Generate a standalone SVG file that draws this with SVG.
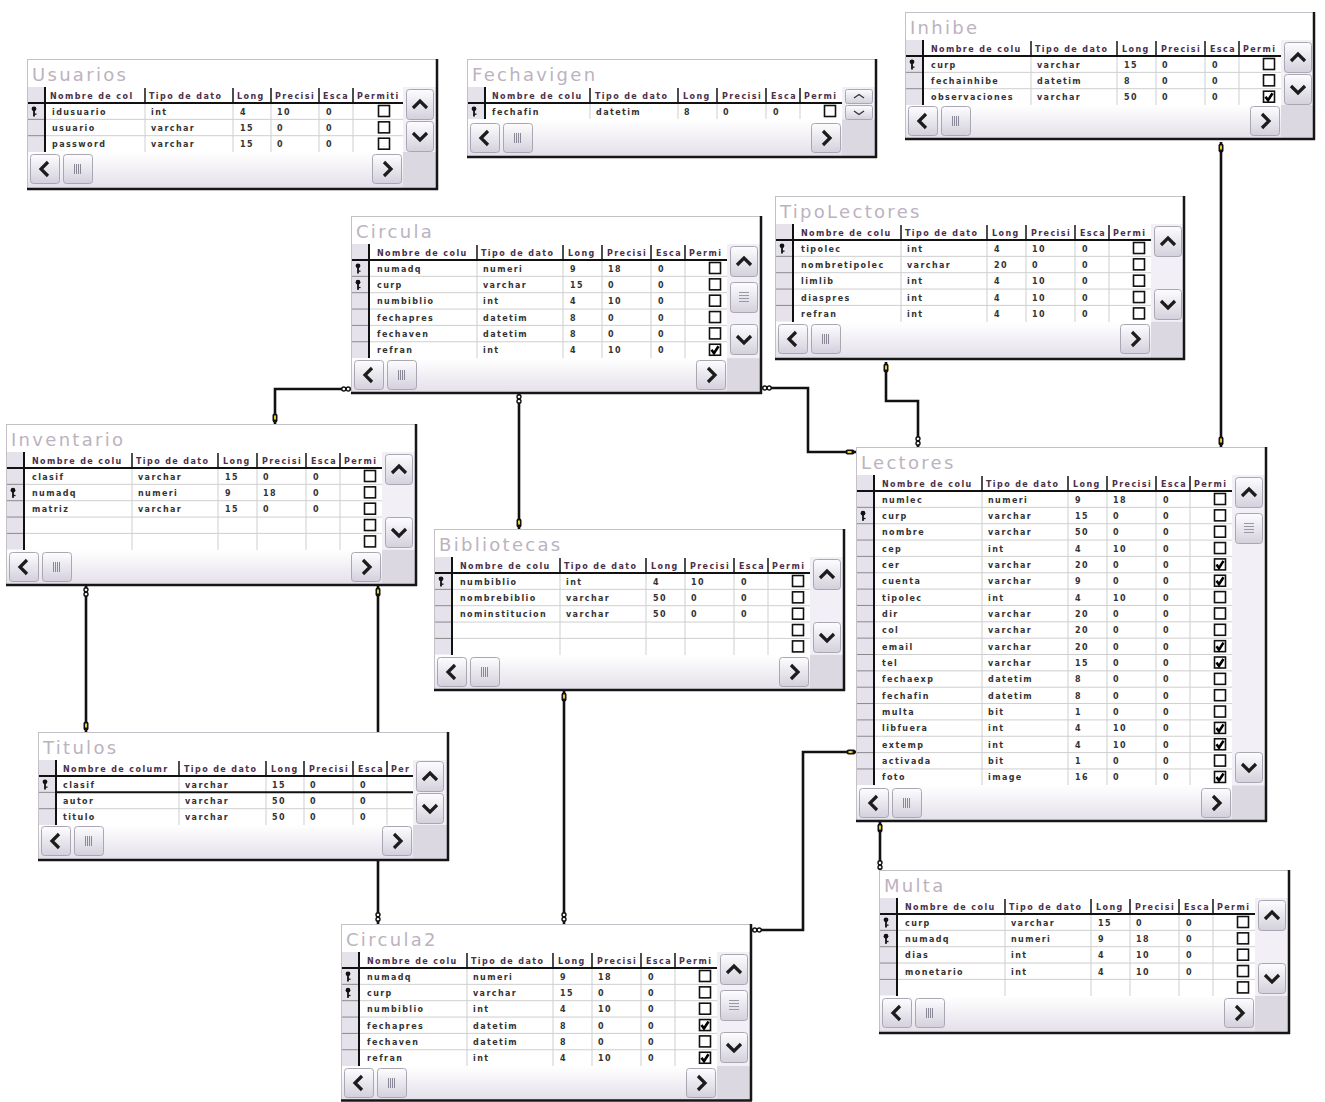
<svg xmlns="http://www.w3.org/2000/svg" xmlns:xlink="http://www.w3.org/1999/xlink" width="1325" height="1102" viewBox="0 0 1325 1102">
<style>
.fr{fill:#fff;stroke:#c4c0c8;stroke-width:1}
.ed{stroke:#161616;stroke-width:2.5;fill:none}
.tt{font-family:"DejaVu Sans",Verdana,sans-serif;font-size:18px;fill:#bcb2c0;letter-spacing:2.3px}
.hd{font-family:"DejaVu Sans",sans-serif;font-size:8px;font-weight:bold;fill:#4a304a;letter-spacing:1.4px}
.tx text{font-family:"DejaVu Sans",sans-serif;font-size:8px;font-weight:bold;fill:#333;letter-spacing:1.4px}
.gl{stroke:#cfcfcf;stroke-width:1;fill:none}
.hs{stroke:#222;stroke-width:1.6;fill:none}
.bk{stroke:#111;stroke-width:2;fill:none}
.sel{fill:#e6e2ec}
.vs{fill:#f2f0f6}
.cn{fill:#dcd8e2}
.hb{fill:url(#gh)}
.sg{stroke:#8a8a8a;stroke-width:1;fill:none}
.conn{stroke:#111;stroke-width:2.6;fill:none}
</style>
<defs>
<linearGradient id="gb" x1="0" y1="0" x2="0" y2="1"><stop offset="0" stop-color="#fdfdff"/><stop offset="1" stop-color="#d4d0dc"/></linearGradient>
<linearGradient id="gh" x1="0" y1="0" x2="0" y2="1"><stop offset="0" stop-color="#ffffff"/><stop offset="1" stop-color="#e4e0ea"/></linearGradient>
<g id="bU"><rect x="0.5" y="0.5" width="27" height="30" rx="3" fill="url(#gb)" stroke="#aaa6b2"/><path d="M7,19 L14,12 L21,19" fill="none" stroke="#1c1c1c" stroke-width="3.2"/></g>
<g id="bD"><rect x="0.5" y="0.5" width="27" height="30" rx="3" fill="url(#gb)" stroke="#aaa6b2"/><path d="M7,12 L14,19 L21,12" fill="none" stroke="#1c1c1c" stroke-width="3.2"/></g>
<g id="tV"><rect x="0.5" y="0.5" width="27" height="30" rx="3" fill="url(#gb)" stroke="#aaa6b2"/><path d="M9,10.5H19M9,13.5H19M9,16.5H19M9,19.5H19" fill="none" stroke="#9a98a4" stroke-width="1"/></g>
<g id="bL"><rect x="0.5" y="0.5" width="29" height="29" rx="3" fill="url(#gb)" stroke="#aaa6b2"/><path d="M18,8 L11,15 L18,22" fill="none" stroke="#1c1c1c" stroke-width="3.2"/></g>
<g id="bR"><rect x="0.5" y="0.5" width="29" height="29" rx="3" fill="url(#gb)" stroke="#aaa6b2"/><path d="M12,8 L19,15 L12,22" fill="none" stroke="#1c1c1c" stroke-width="3.2"/></g>
<g id="tH"><rect x="0.5" y="0.5" width="29" height="29" rx="3" fill="url(#gb)" stroke="#aaa6b2"/><path d="M11.5,10V20M13.5,10V20M15.5,10V20M17.5,10V20" fill="none" stroke="#8a8896" stroke-width="1"/></g>
<g id="sU"><rect x="0.5" y="0.5" width="27" height="14" rx="2" fill="url(#gb)" stroke="#aaa6b2"/><path d="M9,9 L14,5.5 L19,9" fill="none" stroke="#333" stroke-width="1.4"/></g>
<g id="sD"><rect x="0.5" y="0.5" width="27" height="14" rx="2" fill="url(#gb)" stroke="#aaa6b2"/><path d="M9,6 L14,9.5 L19,6" fill="none" stroke="#333" stroke-width="1.4"/></g>
<rect id="cb" x="0.5" y="0.5" width="11" height="11" fill="#fff" stroke="#111" stroke-width="1.6"/>
<g id="cc"><use href="#cb"/><path d="M2.5,6 L5,9.5 L9.5,2.5" stroke="#000" stroke-width="2.6" fill="none"/></g>
<g id="ky"><circle cx="0" cy="-2.2" r="2.4" fill="#111"/><rect x="-0.9" y="-0.5" width="1.8" height="6" fill="#111"/><rect x="0.5" y="2.5" width="2" height="1.3" fill="#111"/></g>
<g id="kv"><rect x="-2.5" y="-4.5" width="5" height="9" rx="2" fill="#111"/><rect x="-1" y="-2.5" width="2" height="4" fill="#e8c830"/></g>
<g id="kh"><rect x="-4.5" y="-2.5" width="9" height="5" rx="2" fill="#111"/><rect x="-2.5" y="-1" width="4" height="2" fill="#e8c830"/></g>
<g id="iv"><circle cx="0" cy="-2.2" r="2" fill="#fff" stroke="#111" stroke-width="1.4"/><circle cx="0" cy="2.2" r="2" fill="#fff" stroke="#111" stroke-width="1.4"/></g>
<g id="ih"><circle cx="-2.2" cy="0" r="2" fill="#fff" stroke="#111" stroke-width="1.4"/><circle cx="2.2" cy="0" r="2" fill="#fff" stroke="#111" stroke-width="1.4"/></g>
</defs>
<rect x="0" y="0" width="1325" height="1102" fill="#ffffff"/>

<g id="connectors">
<path class="conn" d="M1221,142V447"/>
<path class="conn" d="M886,362V401H918V447"/>
<path class="conn" d="M762,388H808V452H856"/>
<path class="conn" d="M351,389H275V424"/>
<path class="conn" d="M519,394V529"/>
<path class="conn" d="M86,586V732"/>
<path class="conn" d="M378,586V924"/>
<path class="conn" d="M564,691V924"/>
<path class="conn" d="M752,930H803V752H856"/>
<path class="conn" d="M880,822V870"/>
<use href="#kv" x="1221" y="148"/><use href="#kv" x="1221" y="441"/>
<use href="#kv" x="886" y="368"/><use href="#iv" x="918" y="441"/>
<use href="#ih" x="767" y="388"/><use href="#kh" x="850" y="452"/>
<use href="#ih" x="346" y="389"/><use href="#kv" x="275" y="418"/>
<use href="#iv" x="519" y="399"/><use href="#kv" x="519" y="523"/>
<use href="#iv" x="86" y="592"/><use href="#kv" x="86" y="726"/>
<use href="#kv" x="378" y="592"/><use href="#iv" x="378" y="917"/>
<use href="#kv" x="564" y="697"/><use href="#iv" x="564" y="917"/>
<use href="#ih" x="757" y="930"/><use href="#kh" x="851" y="752"/>
<use href="#kv" x="880" y="828"/><use href="#iv" x="880" y="865"/>
</g>

<g id="usuarios" transform="translate(27,59)">
<rect class="fr" x="0.5" y="0.5" width="409" height="129"/>
<text class="tt" x="5" y="22">Usuarios</text>
<rect class="sel" x="1" y="28" width="17" height="65"/>
<rect class="vs" x="376" y="28" width="33" height="65"/>
<rect class="hb" x="1" y="93" width="375" height="36"/>
<rect class="cn" x="376" y="93" width="33" height="36"/>
<path class="gl" d="M118,44V93M206,44V93M244,44V93M292,44V93M326,44V93M18,60.35H376M18,76.7H376"/>
<path class="sg" d="M1,60.35H18M1,76.7H18"/>
<path class="hs" d="M118,29V43M206,29V43M244,29V43M292,29V43M326,29V43"/>
<path class="bk" d="M18,28V93M1,44H376"/>
<text class="hd" y="39.5"><tspan x="23">Nombre de col</tspan><tspan x="122">Tipo de dato</tspan><tspan x="210">Long</tspan><tspan x="248">Precisi</tspan><tspan x="296">Esca</tspan><tspan x="330">Permiti</tspan></text>
<g class="tx">
<text y="55.5"><tspan x="25">idusuario</tspan><tspan x="124">int</tspan><tspan x="213">4</tspan><tspan x="250">10</tspan><tspan x="299">0</tspan></text>
<text y="71.85"><tspan x="25">usuario</tspan><tspan x="124">varchar</tspan><tspan x="213">15</tspan><tspan x="250">0</tspan><tspan x="299">0</tspan></text>
<text y="88.2"><tspan x="25">password</tspan><tspan x="124">varchar</tspan><tspan x="213">15</tspan><tspan x="250">0</tspan><tspan x="299">0</tspan></text>
</g>
<use href="#ky" x="7" y="52"/>
<use href="#cb" x="351" y="46"/><use href="#cb" x="351" y="62.35"/><use href="#cb" x="351" y="78.7"/>
<use href="#bU" x="379" y="30"/><use href="#bD" x="379" y="62"/>
<use href="#bL" x="3" y="95"/><use href="#tH" x="36" y="95"/><use href="#bR" x="345" y="95"/>
<path class="ed" d="M410,0V131M0,130H411"/>
</g>

<g id="fechavigen" transform="translate(467,59)">
<rect class="fr" x="0.5" y="0.5" width="408" height="97"/>
<text class="tt" x="5" y="22">Fechavigen</text>
<rect class="sel" x="1" y="28" width="17" height="32.35"/>
<rect class="vs" x="375" y="28" width="33" height="32.35"/>
<rect class="hb" x="1" y="60.35" width="374" height="37"/>
<rect class="cn" x="375" y="60.35" width="33" height="37"/>
<path class="gl" d="M123,44V60M211,44V60M250,44V60M299,44V60M333,44V60"/>
<path class="hs" d="M123,29V43M211,29V43M250,29V43M299,29V43M333,29V43"/>
<path class="bk" d="M18,28V60M1,44H375"/>
<text class="hd" y="39.5"><tspan x="25">Nombre de colu</tspan><tspan x="128">Tipo de dato</tspan><tspan x="216">Long</tspan><tspan x="255">Precisi</tspan><tspan x="304">Esca</tspan><tspan x="337">Permi</tspan></text>
<g class="tx">
<text y="55.5"><tspan x="25">fechafin</tspan><tspan x="129">datetim</tspan><tspan x="217">8</tspan><tspan x="256">0</tspan><tspan x="306">0</tspan></text>
</g>
<use href="#ky" x="7" y="52"/>
<use href="#cb" x="357" y="46"/>
<use href="#sU" x="378" y="30"/><use href="#sD" x="378" y="46"/>
<use href="#bL" x="3" y="64"/><use href="#tH" x="36" y="64"/><use href="#bR" x="344" y="64"/>
<path class="ed" d="M409,0V99M0,98H410"/>
</g>

<g id="inhibe" transform="translate(905,12)">
<rect class="fr" x="0.5" y="0.5" width="408" height="126"/>
<text class="tt" x="5" y="22">Inhibe</text>
<rect class="sel" x="1" y="28" width="17" height="65"/>
<rect class="vs" x="376" y="28" width="32" height="65"/>
<rect class="hb" x="1" y="93" width="375" height="33"/>
<rect class="cn" x="376" y="93" width="32" height="33"/>
<path class="gl" d="M126,44V93M212,44V93M251,44V93M300,44V93M334,44V93M18,60.35H376M18,76.7H376"/>
<path class="sg" d="M1,60.35H18M1,76.7H18"/>
<path class="hs" d="M126,29V43M212,29V43M251,29V43M300,29V43M334,29V43"/>
<path class="bk" d="M18,28V93M1,44H376"/>
<text class="hd" y="39.5"><tspan x="26">Nombre de colu</tspan><tspan x="130">Tipo de dato</tspan><tspan x="217">Long</tspan><tspan x="256">Precisi</tspan><tspan x="305">Esca</tspan><tspan x="338">Permi</tspan></text>
<g class="tx">
<text y="55.5"><tspan x="26">curp</tspan><tspan x="132">varchar</tspan><tspan x="219">15</tspan><tspan x="257">0</tspan><tspan x="307">0</tspan></text>
<text y="71.85"><tspan x="26">fechainhibe</tspan><tspan x="132">datetim</tspan><tspan x="219">8</tspan><tspan x="257">0</tspan><tspan x="307">0</tspan></text>
<text y="88.2"><tspan x="26">observaciones</tspan><tspan x="132">varchar</tspan><tspan x="219">50</tspan><tspan x="257">0</tspan><tspan x="307">0</tspan></text>
</g>
<use href="#ky" x="7" y="52"/>
<use href="#cb" x="358" y="46"/><use href="#cb" x="358" y="62.35"/><use href="#cc" x="358" y="78.7"/>
<use href="#bU" x="379" y="30"/><use href="#bD" x="379" y="62"/>
<use href="#bL" x="3" y="94"/><use href="#tH" x="36" y="94"/><use href="#bR" x="345" y="94"/>
<path class="ed" d="M409,0V128M0,127H410"/>
</g>

<g id="circula" transform="translate(351,216)">
<rect class="fr" x="0.5" y="0.5" width="409" height="176"/>
<text class="tt" x="5" y="22">Circula</text>
<rect class="sel" x="1" y="28" width="17" height="114.1"/>
<rect class="vs" x="376" y="28" width="33" height="114.1"/>
<rect class="hb" x="1" y="142.1" width="375" height="34.9"/>
<rect class="cn" x="376" y="142.1" width="33" height="34.9"/>
<path class="gl" d="M126,44V142M212,44V142M251,44V142M300,44V142M334,44V142M18,60.35H376M18,76.7H376M18,93.05H376M18,109.4H376M18,125.75H376"/>
<path class="sg" d="M1,60.35H18M1,76.7H18M1,93.05H18M1,109.4H18M1,125.75H18"/>
<path class="hs" d="M126,29V43M212,29V43M251,29V43M300,29V43M334,29V43"/>
<path class="bk" d="M18,28V142M1,44H376"/>
<text class="hd" y="39.5"><tspan x="26">Nombre de colu</tspan><tspan x="130">Tipo de dato</tspan><tspan x="217">Long</tspan><tspan x="256">Precisi</tspan><tspan x="305">Esca</tspan><tspan x="338">Permi</tspan></text>
<g class="tx">
<text y="55.5"><tspan x="26">numadq</tspan><tspan x="132">numeri</tspan><tspan x="219">9</tspan><tspan x="257">18</tspan><tspan x="307">0</tspan></text>
<text y="71.85"><tspan x="26">curp</tspan><tspan x="132">varchar</tspan><tspan x="219">15</tspan><tspan x="257">0</tspan><tspan x="307">0</tspan></text>
<text y="88.2"><tspan x="26">numbiblio</tspan><tspan x="132">int</tspan><tspan x="219">4</tspan><tspan x="257">10</tspan><tspan x="307">0</tspan></text>
<text y="104.55"><tspan x="26">fechapres</tspan><tspan x="132">datetim</tspan><tspan x="219">8</tspan><tspan x="257">0</tspan><tspan x="307">0</tspan></text>
<text y="120.9"><tspan x="26">fechaven</tspan><tspan x="132">datetim</tspan><tspan x="219">8</tspan><tspan x="257">0</tspan><tspan x="307">0</tspan></text>
<text y="137.25"><tspan x="26">refran</tspan><tspan x="132">int</tspan><tspan x="219">4</tspan><tspan x="257">10</tspan><tspan x="307">0</tspan></text>
</g>
<use href="#ky" x="7" y="52"/><use href="#ky" x="7" y="68.35"/>
<use href="#cb" x="358" y="46"/><use href="#cb" x="358" y="62.35"/><use href="#cb" x="358" y="78.7"/><use href="#cb" x="358" y="95.05"/><use href="#cb" x="358" y="111.4"/><use href="#cc" x="358" y="127.75"/>
<use href="#bU" x="379" y="30"/><use href="#tV" x="379" y="66"/><use href="#bD" x="379" y="108"/>
<use href="#bL" x="3" y="144"/><use href="#tH" x="36" y="144"/><use href="#bR" x="345" y="144"/>
<path class="ed" d="M410,0V178M0,177H411"/>
</g>

<g id="tipolectores" transform="translate(775,196)">
<rect class="fr" x="0.5" y="0.5" width="408" height="162"/>
<text class="tt" x="5" y="22">TipoLectores</text>
<rect class="sel" x="1" y="28" width="17" height="97.75"/>
<rect class="vs" x="376" y="28" width="32" height="97.75"/>
<rect class="hb" x="1" y="125.75" width="375" height="36.25"/>
<rect class="cn" x="376" y="125.75" width="32" height="36.25"/>
<path class="gl" d="M126,44V126M212,44V126M251,44V126M300,44V126M334,44V126M18,60.35H376M18,76.7H376M18,93.05H376M18,109.4H376"/>
<path class="sg" d="M1,60.35H18M1,76.7H18M1,93.05H18M1,109.4H18"/>
<path class="hs" d="M126,29V43M212,29V43M251,29V43M300,29V43M334,29V43"/>
<path class="bk" d="M18,28V126M1,44H376"/>
<text class="hd" y="39.5"><tspan x="26">Nombre de colu</tspan><tspan x="130">Tipo de dato</tspan><tspan x="217">Long</tspan><tspan x="256">Precisi</tspan><tspan x="305">Esca</tspan><tspan x="338">Permi</tspan></text>
<g class="tx">
<text y="55.5"><tspan x="26">tipolec</tspan><tspan x="132">int</tspan><tspan x="219">4</tspan><tspan x="257">10</tspan><tspan x="307">0</tspan></text>
<text y="71.85"><tspan x="26">nombretipolec</tspan><tspan x="132">varchar</tspan><tspan x="219">20</tspan><tspan x="257">0</tspan><tspan x="307">0</tspan></text>
<text y="88.2"><tspan x="26">limlib</tspan><tspan x="132">int</tspan><tspan x="219">4</tspan><tspan x="257">10</tspan><tspan x="307">0</tspan></text>
<text y="104.55"><tspan x="26">diaspres</tspan><tspan x="132">int</tspan><tspan x="219">4</tspan><tspan x="257">10</tspan><tspan x="307">0</tspan></text>
<text y="120.9"><tspan x="26">refran</tspan><tspan x="132">int</tspan><tspan x="219">4</tspan><tspan x="257">10</tspan><tspan x="307">0</tspan></text>
</g>
<use href="#ky" x="7" y="52"/>
<use href="#cb" x="358" y="46"/><use href="#cb" x="358" y="62.35"/><use href="#cb" x="358" y="78.7"/><use href="#cb" x="358" y="95.05"/><use href="#cb" x="358" y="111.4"/>
<use href="#bU" x="379" y="30"/><use href="#bD" x="379" y="93"/>
<use href="#bL" x="3" y="128"/><use href="#tH" x="36" y="128"/><use href="#bR" x="345" y="128"/>
<path class="ed" d="M409,0V164M0,163H410"/>
</g>

<g id="inventario" transform="translate(6,424)">
<rect class="fr" x="0.5" y="0.5" width="409" height="160"/>
<text class="tt" x="5" y="22">Inventario</text>
<rect class="sel" x="1" y="28" width="17" height="97.75"/>
<rect class="vs" x="376" y="28" width="33" height="97.75"/>
<rect class="hb" x="1" y="125.75" width="375" height="34.25"/>
<rect class="cn" x="376" y="125.75" width="33" height="34.25"/>
<path class="gl" d="M126,44V126M212,44V126M251,44V126M300,44V126M334,44V126M18,60.35H376M18,76.7H376M18,93.05H376M18,109.4H376"/>
<path class="sg" d="M1,60.35H18M1,76.7H18M1,93.05H18M1,109.4H18"/>
<path class="hs" d="M126,29V43M212,29V43M251,29V43M300,29V43M334,29V43"/>
<path class="bk" d="M18,28V126M1,44H376"/>
<text class="hd" y="39.5"><tspan x="26">Nombre de colu</tspan><tspan x="130">Tipo de dato</tspan><tspan x="217">Long</tspan><tspan x="256">Precisi</tspan><tspan x="305">Esca</tspan><tspan x="338">Permi</tspan></text>
<g class="tx">
<text y="55.5"><tspan x="26">clasif</tspan><tspan x="132">varchar</tspan><tspan x="219">15</tspan><tspan x="257">0</tspan><tspan x="307">0</tspan></text>
<text y="71.85"><tspan x="26">numadq</tspan><tspan x="132">numeri</tspan><tspan x="219">9</tspan><tspan x="257">18</tspan><tspan x="307">0</tspan></text>
<text y="88.2"><tspan x="26">matriz</tspan><tspan x="132">varchar</tspan><tspan x="219">15</tspan><tspan x="257">0</tspan><tspan x="307">0</tspan></text>
</g>
<use href="#ky" x="7" y="68.35"/>
<use href="#cb" x="358" y="46"/><use href="#cb" x="358" y="62.35"/><use href="#cb" x="358" y="78.7"/><use href="#cb" x="358" y="95.05"/><use href="#cb" x="358" y="111.4"/>
<use href="#bU" x="379" y="30"/><use href="#bD" x="379" y="93"/>
<use href="#bL" x="3" y="128"/><use href="#tH" x="36" y="128"/><use href="#bR" x="345" y="128"/>
<path class="ed" d="M410,0V162M0,161H411"/>
</g>

<g id="bibliotecas" transform="translate(434,529)">
<rect class="fr" x="0.5" y="0.5" width="409" height="160"/>
<text class="tt" x="5" y="22">Bibliotecas</text>
<rect class="sel" x="1" y="28" width="17" height="97.75"/>
<rect class="vs" x="376" y="28" width="33" height="97.75"/>
<rect class="hb" x="1" y="125.75" width="375" height="34.25"/>
<rect class="cn" x="376" y="125.75" width="33" height="34.25"/>
<path class="gl" d="M126,44V126M212,44V126M251,44V126M300,44V126M334,44V126M18,60.35H376M18,76.7H376M18,93.05H376M18,109.4H376"/>
<path class="sg" d="M1,60.35H18M1,76.7H18M1,93.05H18M1,109.4H18"/>
<path class="hs" d="M126,29V43M212,29V43M251,29V43M300,29V43M334,29V43"/>
<path class="bk" d="M18,28V126M1,44H376"/>
<text class="hd" y="39.5"><tspan x="26">Nombre de colu</tspan><tspan x="130">Tipo de dato</tspan><tspan x="217">Long</tspan><tspan x="256">Precisi</tspan><tspan x="305">Esca</tspan><tspan x="338">Permi</tspan></text>
<g class="tx">
<text y="55.5"><tspan x="26">numbiblio</tspan><tspan x="132">int</tspan><tspan x="219">4</tspan><tspan x="257">10</tspan><tspan x="307">0</tspan></text>
<text y="71.85"><tspan x="26">nombrebiblio</tspan><tspan x="132">varchar</tspan><tspan x="219">50</tspan><tspan x="257">0</tspan><tspan x="307">0</tspan></text>
<text y="88.2"><tspan x="26">nominstitucion</tspan><tspan x="132">varchar</tspan><tspan x="219">50</tspan><tspan x="257">0</tspan><tspan x="307">0</tspan></text>
</g>
<use href="#ky" x="7" y="52"/>
<use href="#cb" x="358" y="46"/><use href="#cb" x="358" y="62.35"/><use href="#cb" x="358" y="78.7"/><use href="#cb" x="358" y="95.05"/><use href="#cb" x="358" y="111.4"/>
<use href="#bU" x="379" y="30"/><use href="#bD" x="379" y="93"/>
<use href="#bL" x="3" y="128"/><use href="#tH" x="36" y="128"/><use href="#bR" x="345" y="128"/>
<path class="ed" d="M410,0V162M0,161H411"/>
</g>

<g id="lectores" transform="translate(856,447)">
<rect class="fr" x="0.5" y="0.5" width="409" height="373"/>
<text class="tt" x="5" y="22">Lectores</text>
<rect class="sel" x="1" y="28" width="17" height="310.3"/>
<rect class="vs" x="376" y="28" width="33" height="310.3"/>
<rect class="hb" x="1" y="338.3" width="375" height="35.7"/>
<rect class="cn" x="376" y="338.3" width="33" height="35.7"/>
<path class="gl" d="M126,44V338M212,44V338M251,44V338M300,44V338M334,44V338M18,60.35H376M18,76.7H376M18,93.05H376M18,109.4H376M18,125.75H376M18,142.1H376M18,158.45H376M18,174.8H376M18,191.15H376M18,207.5H376M18,223.85H376M18,240.2H376M18,256.55H376M18,272.9H376M18,289.25H376M18,305.6H376M18,321.95H376"/>
<path class="sg" d="M1,60.35H18M1,76.7H18M1,93.05H18M1,109.4H18M1,125.75H18M1,142.1H18M1,158.45H18M1,174.8H18M1,191.15H18M1,207.5H18M1,223.85H18M1,240.2H18M1,256.55H18M1,272.9H18M1,289.25H18M1,305.6H18M1,321.95H18"/>
<path class="hs" d="M126,29V43M212,29V43M251,29V43M300,29V43M334,29V43"/>
<path class="bk" d="M18,28V338M1,44H376"/>
<text class="hd" y="39.5"><tspan x="26">Nombre de colu</tspan><tspan x="130">Tipo de dato</tspan><tspan x="217">Long</tspan><tspan x="256">Precisi</tspan><tspan x="305">Esca</tspan><tspan x="338">Permi</tspan></text>
<g class="tx">
<text y="55.5"><tspan x="26">numlec</tspan><tspan x="132">numeri</tspan><tspan x="219">9</tspan><tspan x="257">18</tspan><tspan x="307">0</tspan></text>
<text y="71.85"><tspan x="26">curp</tspan><tspan x="132">varchar</tspan><tspan x="219">15</tspan><tspan x="257">0</tspan><tspan x="307">0</tspan></text>
<text y="88.2"><tspan x="26">nombre</tspan><tspan x="132">varchar</tspan><tspan x="219">50</tspan><tspan x="257">0</tspan><tspan x="307">0</tspan></text>
<text y="104.55"><tspan x="26">cep</tspan><tspan x="132">int</tspan><tspan x="219">4</tspan><tspan x="257">10</tspan><tspan x="307">0</tspan></text>
<text y="120.9"><tspan x="26">cer</tspan><tspan x="132">varchar</tspan><tspan x="219">20</tspan><tspan x="257">0</tspan><tspan x="307">0</tspan></text>
<text y="137.25"><tspan x="26">cuenta</tspan><tspan x="132">varchar</tspan><tspan x="219">9</tspan><tspan x="257">0</tspan><tspan x="307">0</tspan></text>
<text y="153.6"><tspan x="26">tipolec</tspan><tspan x="132">int</tspan><tspan x="219">4</tspan><tspan x="257">10</tspan><tspan x="307">0</tspan></text>
<text y="169.95"><tspan x="26">dir</tspan><tspan x="132">varchar</tspan><tspan x="219">20</tspan><tspan x="257">0</tspan><tspan x="307">0</tspan></text>
<text y="186.3"><tspan x="26">col</tspan><tspan x="132">varchar</tspan><tspan x="219">20</tspan><tspan x="257">0</tspan><tspan x="307">0</tspan></text>
<text y="202.65"><tspan x="26">email</tspan><tspan x="132">varchar</tspan><tspan x="219">20</tspan><tspan x="257">0</tspan><tspan x="307">0</tspan></text>
<text y="219"><tspan x="26">tel</tspan><tspan x="132">varchar</tspan><tspan x="219">15</tspan><tspan x="257">0</tspan><tspan x="307">0</tspan></text>
<text y="235.35"><tspan x="26">fechaexp</tspan><tspan x="132">datetim</tspan><tspan x="219">8</tspan><tspan x="257">0</tspan><tspan x="307">0</tspan></text>
<text y="251.7"><tspan x="26">fechafin</tspan><tspan x="132">datetim</tspan><tspan x="219">8</tspan><tspan x="257">0</tspan><tspan x="307">0</tspan></text>
<text y="268.05"><tspan x="26">multa</tspan><tspan x="132">bit</tspan><tspan x="219">1</tspan><tspan x="257">0</tspan><tspan x="307">0</tspan></text>
<text y="284.4"><tspan x="26">libfuera</tspan><tspan x="132">int</tspan><tspan x="219">4</tspan><tspan x="257">10</tspan><tspan x="307">0</tspan></text>
<text y="300.75"><tspan x="26">extemp</tspan><tspan x="132">int</tspan><tspan x="219">4</tspan><tspan x="257">10</tspan><tspan x="307">0</tspan></text>
<text y="317.1"><tspan x="26">activada</tspan><tspan x="132">bit</tspan><tspan x="219">1</tspan><tspan x="257">0</tspan><tspan x="307">0</tspan></text>
<text y="333.45"><tspan x="26">foto</tspan><tspan x="132">image</tspan><tspan x="219">16</tspan><tspan x="257">0</tspan><tspan x="307">0</tspan></text>
</g>
<use href="#ky" x="7" y="68.35"/>
<use href="#cb" x="358" y="46"/><use href="#cb" x="358" y="62.35"/><use href="#cb" x="358" y="78.7"/><use href="#cb" x="358" y="95.05"/><use href="#cc" x="358" y="111.4"/><use href="#cc" x="358" y="127.75"/><use href="#cb" x="358" y="144.1"/><use href="#cb" x="358" y="160.45"/><use href="#cb" x="358" y="176.8"/><use href="#cc" x="358" y="193.15"/><use href="#cc" x="358" y="209.5"/><use href="#cb" x="358" y="225.85"/><use href="#cb" x="358" y="242.2"/><use href="#cb" x="358" y="258.55"/><use href="#cc" x="358" y="274.9"/><use href="#cc" x="358" y="291.25"/><use href="#cb" x="358" y="307.6"/><use href="#cc" x="358" y="323.95"/>
<use href="#bU" x="379" y="30"/><use href="#tV" x="379" y="66"/><use href="#bD" x="379" y="305"/>
<use href="#bL" x="3" y="341"/><use href="#tH" x="36" y="341"/><use href="#bR" x="345" y="341"/>
<path class="ed" d="M410,0V375M0,374H411"/>
</g>

<g id="titulos" transform="translate(38,732)">
<rect class="fr" x="0.5" y="0.5" width="409" height="127"/>
<text class="tt" x="5" y="22">Titulos</text>
<rect class="sel" x="1" y="28" width="17" height="65"/>
<rect class="vs" x="375" y="28" width="34" height="65"/>
<rect class="hb" x="1" y="93" width="374" height="34"/>
<rect class="cn" x="375" y="93" width="34" height="34"/>
<path class="gl" d="M141,44V93M228,44V93M266,44V93M315,44V93M349,44V93M18,76.7H375"/>
<path class="sg" d="M1,60.35H18M1,76.7H18"/>
<path class="hs" d="M141,29V43M228,29V43M266,29V43M315,29V43M349,29V43"/>
<path class="bk" d="M18,28V93M1,44H375M18,60.35H375"/>
<text class="hd" y="39.5"><tspan x="25">Nombre de columr</tspan><tspan x="146">Tipo de dato</tspan><tspan x="233">Long</tspan><tspan x="271">Precisi</tspan><tspan x="320">Esca</tspan><tspan x="353">Per</tspan></text>
<g class="tx">
<text y="55.5"><tspan x="25">clasif</tspan><tspan x="147">varchar</tspan><tspan x="234">15</tspan><tspan x="272">0</tspan><tspan x="322">0</tspan></text>
<text y="71.85"><tspan x="25">autor</tspan><tspan x="147">varchar</tspan><tspan x="234">50</tspan><tspan x="272">0</tspan><tspan x="322">0</tspan></text>
<text y="88.2"><tspan x="25">titulo</tspan><tspan x="147">varchar</tspan><tspan x="234">50</tspan><tspan x="272">0</tspan><tspan x="322">0</tspan></text>
</g>
<use href="#ky" x="7" y="52"/>
<use href="#bU" x="378" y="29"/><use href="#bD" x="378" y="61"/>
<use href="#bL" x="3" y="94"/><use href="#tH" x="36" y="94"/><use href="#bR" x="344" y="94"/>
<path class="ed" d="M410,0V129M0,128H411"/>
</g>

<g id="circula2" transform="translate(341,924)">
<rect class="fr" x="0.5" y="0.5" width="409" height="175"/>
<text class="tt" x="5" y="22">Circula2</text>
<rect class="sel" x="1" y="28" width="17" height="114.1"/>
<rect class="vs" x="376" y="28" width="33" height="114.1"/>
<rect class="hb" x="1" y="142.1" width="375" height="33.9"/>
<rect class="cn" x="376" y="142.1" width="33" height="33.9"/>
<path class="gl" d="M126,44V142M212,44V142M251,44V142M300,44V142M334,44V142M18,60.35H376M18,76.7H376M18,93.05H376M18,109.4H376M18,125.75H376"/>
<path class="sg" d="M1,60.35H18M1,76.7H18M1,93.05H18M1,109.4H18M1,125.75H18"/>
<path class="hs" d="M126,29V43M212,29V43M251,29V43M300,29V43M334,29V43"/>
<path class="bk" d="M18,28V142M1,44H376"/>
<text class="hd" y="39.5"><tspan x="26">Nombre de colu</tspan><tspan x="130">Tipo de dato</tspan><tspan x="217">Long</tspan><tspan x="256">Precisi</tspan><tspan x="305">Esca</tspan><tspan x="338">Permi</tspan></text>
<g class="tx">
<text y="55.5"><tspan x="26">numadq</tspan><tspan x="132">numeri</tspan><tspan x="219">9</tspan><tspan x="257">18</tspan><tspan x="307">0</tspan></text>
<text y="71.85"><tspan x="26">curp</tspan><tspan x="132">varchar</tspan><tspan x="219">15</tspan><tspan x="257">0</tspan><tspan x="307">0</tspan></text>
<text y="88.2"><tspan x="26">numbiblio</tspan><tspan x="132">int</tspan><tspan x="219">4</tspan><tspan x="257">10</tspan><tspan x="307">0</tspan></text>
<text y="104.55"><tspan x="26">fechapres</tspan><tspan x="132">datetim</tspan><tspan x="219">8</tspan><tspan x="257">0</tspan><tspan x="307">0</tspan></text>
<text y="120.9"><tspan x="26">fechaven</tspan><tspan x="132">datetim</tspan><tspan x="219">8</tspan><tspan x="257">0</tspan><tspan x="307">0</tspan></text>
<text y="137.25"><tspan x="26">refran</tspan><tspan x="132">int</tspan><tspan x="219">4</tspan><tspan x="257">10</tspan><tspan x="307">0</tspan></text>
</g>
<use href="#ky" x="7" y="52"/><use href="#ky" x="7" y="68.35"/>
<use href="#cb" x="358" y="46"/><use href="#cb" x="358" y="62.35"/><use href="#cb" x="358" y="78.7"/><use href="#cc" x="358" y="95.05"/><use href="#cb" x="358" y="111.4"/><use href="#cc" x="358" y="127.75"/>
<use href="#bU" x="379" y="30"/><use href="#tV" x="379" y="66"/><use href="#bD" x="379" y="108"/>
<use href="#bL" x="3" y="144"/><use href="#tH" x="36" y="144"/><use href="#bR" x="345" y="144"/>
<path class="ed" d="M410,0V177M0,176.5H411"/>
</g>

<g id="multa" transform="translate(879,870)">
<rect class="fr" x="0.5" y="0.5" width="409" height="162"/>
<text class="tt" x="5" y="22">Multa</text>
<rect class="sel" x="1" y="28" width="17" height="97.75"/>
<rect class="vs" x="376" y="28" width="33" height="97.75"/>
<rect class="hb" x="1" y="125.75" width="375" height="36.25"/>
<rect class="cn" x="376" y="125.75" width="33" height="36.25"/>
<path class="gl" d="M126,44V126M212,44V126M251,44V126M300,44V126M334,44V126M18,60.35H376M18,76.7H376M18,93.05H376M18,109.4H376"/>
<path class="sg" d="M1,60.35H18M1,76.7H18M1,93.05H18M1,109.4H18"/>
<path class="hs" d="M126,29V43M212,29V43M251,29V43M300,29V43M334,29V43"/>
<path class="bk" d="M18,28V126M1,44H376"/>
<text class="hd" y="39.5"><tspan x="26">Nombre de colu</tspan><tspan x="130">Tipo de dato</tspan><tspan x="217">Long</tspan><tspan x="256">Precisi</tspan><tspan x="305">Esca</tspan><tspan x="338">Permi</tspan></text>
<g class="tx">
<text y="55.5"><tspan x="26">curp</tspan><tspan x="132">varchar</tspan><tspan x="219">15</tspan><tspan x="257">0</tspan><tspan x="307">0</tspan></text>
<text y="71.85"><tspan x="26">numadq</tspan><tspan x="132">numeri</tspan><tspan x="219">9</tspan><tspan x="257">18</tspan><tspan x="307">0</tspan></text>
<text y="88.2"><tspan x="26">dias</tspan><tspan x="132">int</tspan><tspan x="219">4</tspan><tspan x="257">10</tspan><tspan x="307">0</tspan></text>
<text y="104.55"><tspan x="26">monetario</tspan><tspan x="132">int</tspan><tspan x="219">4</tspan><tspan x="257">10</tspan><tspan x="307">0</tspan></text>
</g>
<use href="#ky" x="7" y="52"/><use href="#ky" x="7" y="68.35"/>
<use href="#cb" x="358" y="46"/><use href="#cb" x="358" y="62.35"/><use href="#cb" x="358" y="78.7"/><use href="#cb" x="358" y="95.05"/><use href="#cb" x="358" y="111.4"/>
<use href="#bU" x="379" y="30"/><use href="#bD" x="379" y="93"/>
<use href="#bL" x="3" y="128"/><use href="#tH" x="36" y="128"/><use href="#bR" x="345" y="128"/>
<path class="ed" d="M410,0V164M0,163H411"/>
</g>
</svg>
